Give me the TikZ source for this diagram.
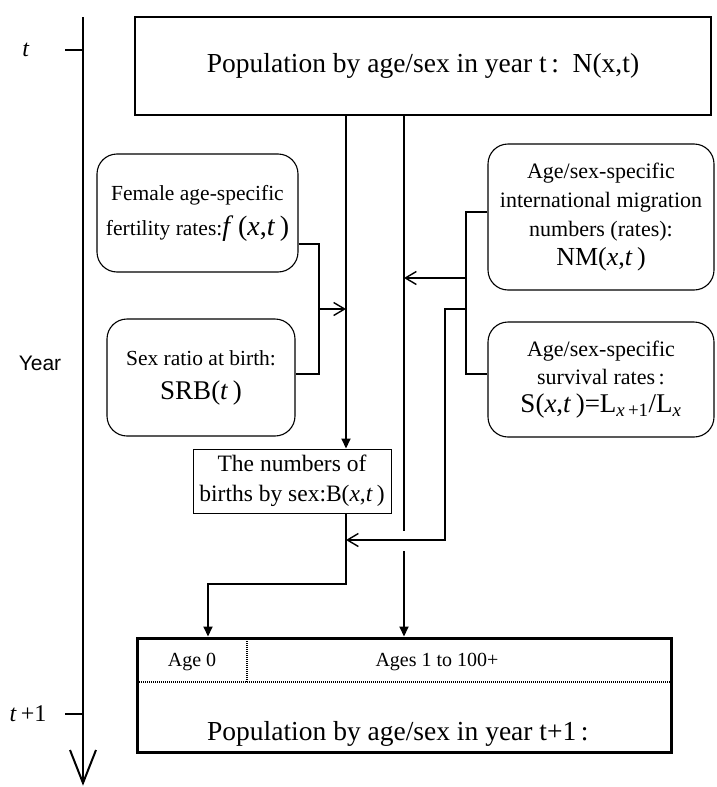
\documentclass[tikz,border=0pt]{standalone}
\usepackage{fontspec}
\setmainfont{Liberation Serif}
\newfontfamily\arialfont{Liberation Sans}
\usetikzlibrary{arrows.meta}
\begin{document}
\begin{tikzpicture}[x=1pt,y=-1pt,
  box/.style={draw, line width=1.3pt, inner sep=0pt, align=center},
  rbox/.style={draw, line width=1.1pt, rounded corners=20pt, inner sep=0pt, align=center},
  conn/.style={line width=1.4pt},
  mainline/.style={line width=2pt},
  filledarrow/.style={-{Triangle[length=10pt,width=9pt]}},
  openarrow/.style={-{Straight Barb[length=11pt,width=13pt]}},
  dotline/.style={line width=2pt, dash pattern=on 1pt off 1pt},
  lbl/.style={inner sep=0pt}
]
\useasboundingbox (0,0) rectangle (716,787);

% time axis
\coordinate (tl0) at (83,17);
\coordinate (tl1) at (83,783);
\coordinate (tv1) at (70,750);
\coordinate (tv2) at (96,750);
\coordinate (tt0) at (83,50);
\coordinate (tt1) at (83,714);
\draw[line width=2.8pt] (tl0) -- (tl1);
\draw[line width=2pt, line join=miter] (tv1) -- (tl1) -- (tv2);
\draw[line width=1.5pt] (tt0) -- ++(-18,0);
\draw[line width=1.5pt] (tt1) -- ++(-18,0);
\node[lbl, font=\fontsize{24}{26}\selectfont] (tlab) at (26,50) {\textit{t}};
\node[lbl, font=\fontsize{24}{26}\selectfont] (t1lab) at (28,714) {\textit{t}\,+1};
\node[lbl, font=\arialfont\fontsize{21}{24}\selectfont] (year) at (40,363) {Year};

% boxes
\node[box, minimum width=576pt, minimum height=98pt, font=\fontsize{27.5}{30}\selectfont] (top) at (423,66)
  {Population by age/sex in year t\,:\ \ N(x,t)};

\node[rbox, minimum width=201pt, minimum height=118pt, font=\fontsize{21.5}{35}\selectfont] (fem) at (197.5,213)
  {Female age-specific\\fertility rates:{\fontsize{28}{30}\selectfont\textit{f}\,(\textit{x},\textit{t}\,)}};

\node[rbox, minimum width=188pt, minimum height=117pt, font=\fontsize{21.5}{34}\selectfont] (srb) at (201,377.5)
  {Sex ratio at birth:\\{\fontsize{27}{30}\selectfont SRB(\textit{t}\,)}};

\node[rbox, minimum width=226pt, minimum height=146pt, font=\fontsize{22}{28.7}\selectfont] (nm) at (601,217)
  {Age/sex-specific\\international migration\\numbers (rates):\\{\fontsize{26}{28}\selectfont NM(\textit{x},\textit{t}\,)}};

\node[rbox, minimum width=226pt, minimum height=115pt, font=\fontsize{22}{28}\selectfont] (surv) at (601,379.5)
  {Age/sex-specific\\survival rates\,:\\{\fontsize{27}{28}\selectfont S(\textit{x},\textit{t}\,)=L\textsubscript{\textit{x}\,+1}/L\textsubscript{\textit{x}}}};

\node[box, line width=1pt, minimum width=198pt, minimum height=64pt, font=\fontsize{23.5}{30}\selectfont] (births) at (292,481)
  {The numbers of\\births by sex:B(\textit{x},\textit{t}\,)};

\node[draw, line width=3pt, minimum width=534pt, minimum height=114pt, inner sep=0pt] (bot) at (404,695) {};
\node[lbl, font=\fontsize{20}{22}\selectfont] (age0) at (192,662) {Age 0};
\node[lbl, font=\fontsize{20}{22}\selectfont] (ages) at (437,662) {Ages 1 to 100+};
\node[lbl, anchor=base west, font=\fontsize{27.5}{30}\selectfont] (popt1) at (207,740)
  {Population by age/sex in year t+1\,:};

% dotted divisions
\coordinate (dl) at (137,682);
\coordinate (dr) at (671,682);
\coordinate (dv) at (247,682);
\draw[dotline] (dl) -- (dr);
\draw[dotline] (dv) -- (dv |- bot.north);

% junctions
\coordinate (bx) at (346,309);
\coordinate (mx) at (404,278);
\coordinate (fj1) at (319,244);
\coordinate (fj2) at (319,374);
\coordinate (fa) at (319,309);
\coordinate (nj1) at (466,212);
\coordinate (nj2) at (466,374);
\coordinate (na) at (466,278);
\coordinate (nb) at (466,309);
\coordinate (nc) at (445,309);
\coordinate (nd) at (445,540);
\coordinate (bj1) at (346,584);
\coordinate (bj2) at (208,584);
\coordinate (gap1) at (404,531);
\coordinate (gap2) at (404,551);

% main vertical flows
\draw[mainline, filledarrow] (top.south -| bx) -- (births.north -| bx);
\draw[mainline] (top.south -| mx) -- (gap1);
\draw[mainline, filledarrow] (gap2) -- (bot.north -| mx);
\draw[mainline, filledarrow] (births.south -| bx) -- (bj1) -- (bj2) -- (bot.north -| bj2);

% side connectors
\draw[conn] (fem.east |- fj1) -- (fj1) -- (fj2) -- (srb.east |- fj2);
\draw[conn, openarrow] (fa) -- (fa -| bx);
\draw[conn] (nm.west |- nj1) -- (nj1) -- (nj2) -- (surv.west |- nj2);
\draw[conn, openarrow] (na) -- (na -| mx);
\draw[conn, openarrow] (nb) -- (nc) -- (nd) -- (nd -| bx);
\end{tikzpicture}
\end{document}
